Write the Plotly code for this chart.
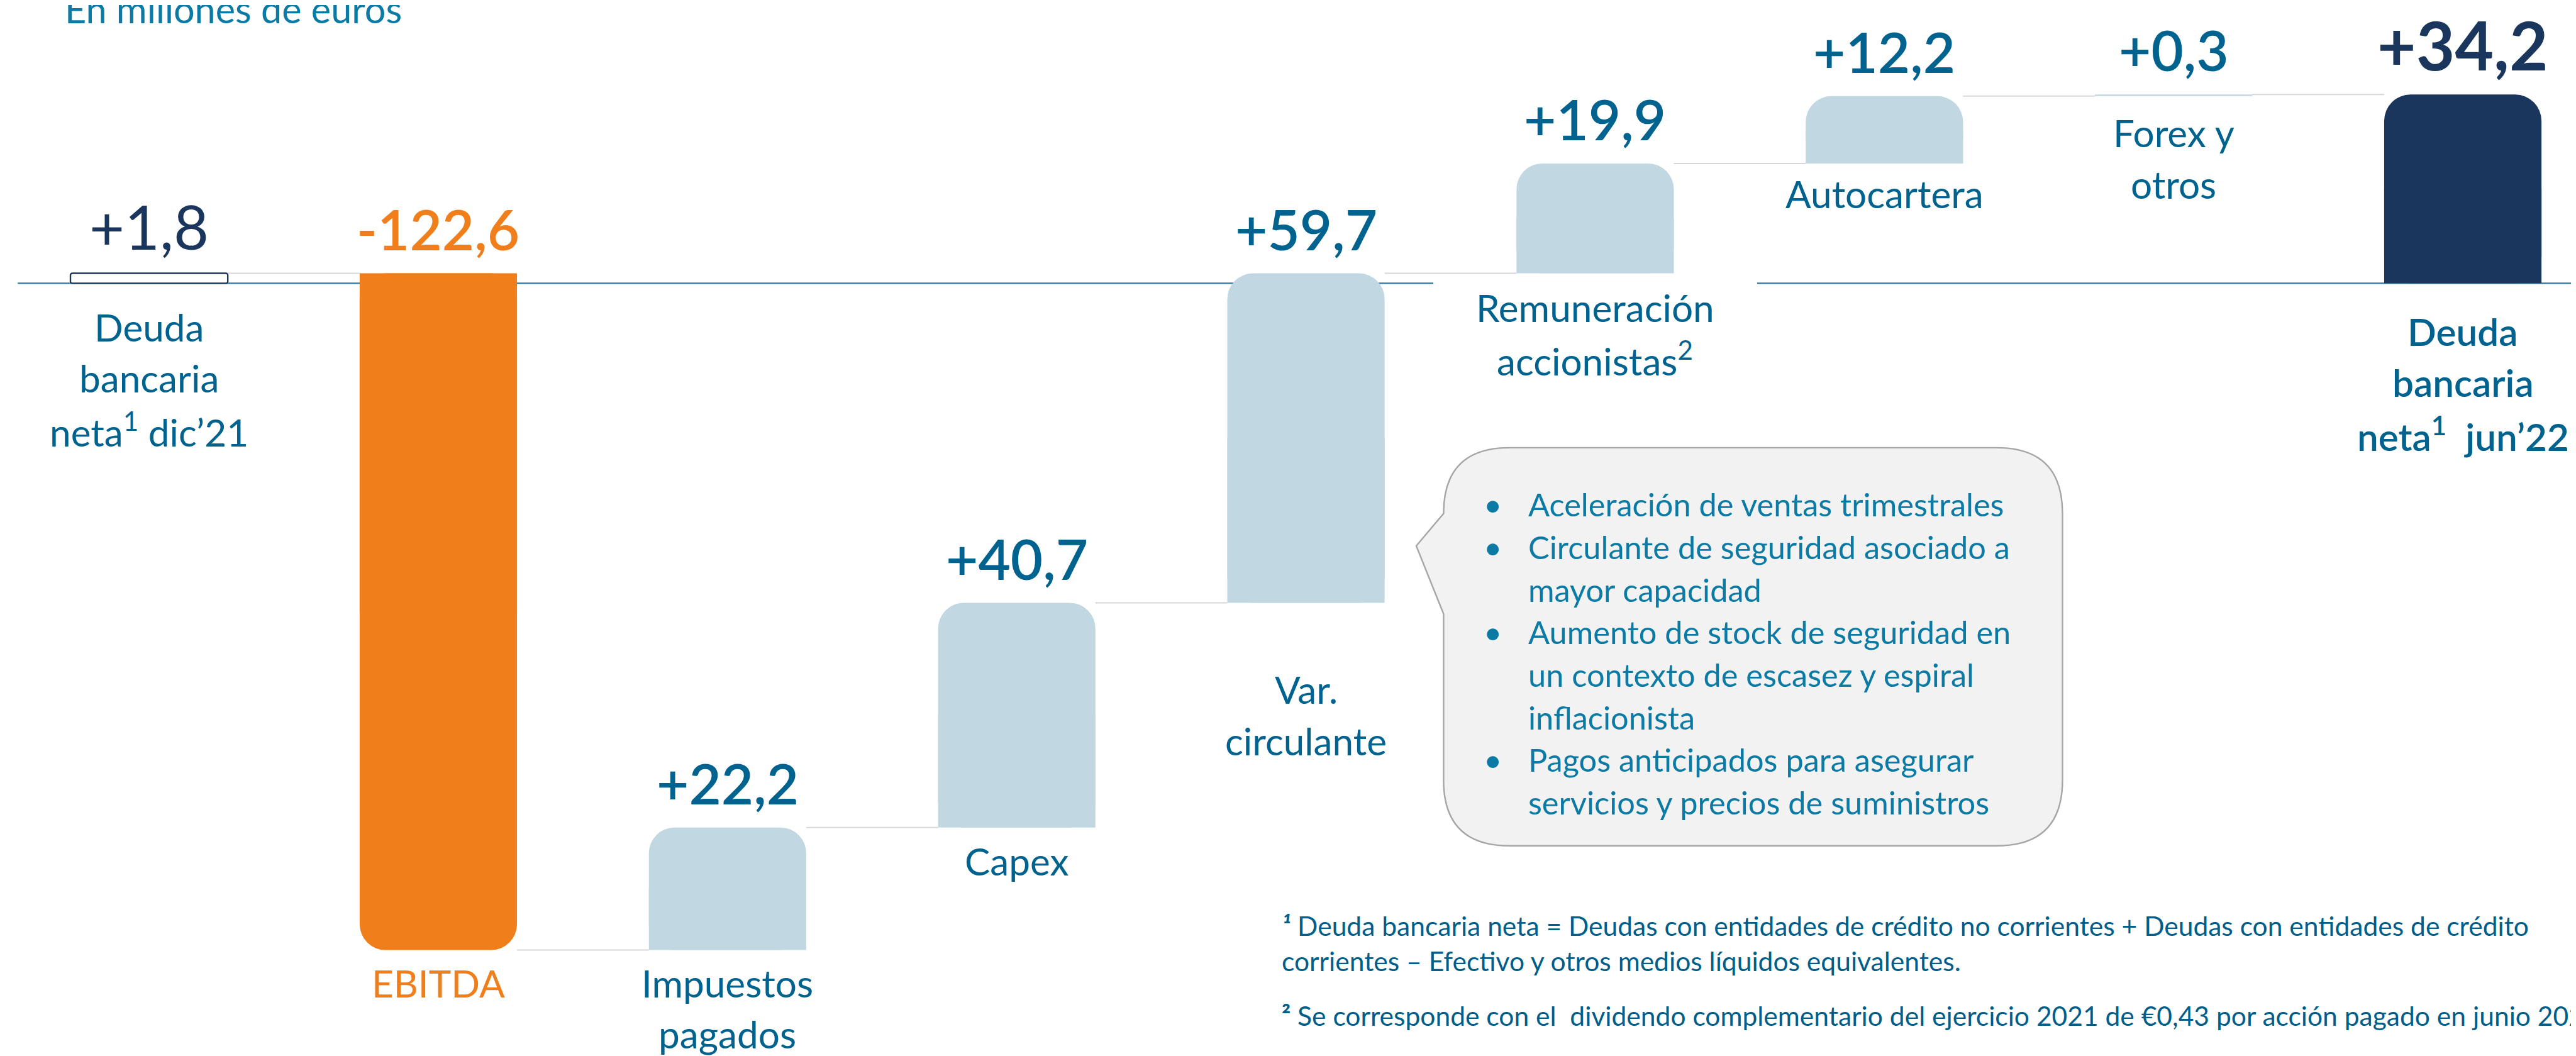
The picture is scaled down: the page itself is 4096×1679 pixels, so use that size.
import plotly.graph_objects as go

# ---------------- data ----------------
categories = ["Deuda bancaria neta¹ dic’21", "EBITDA", "Impuestos pagados", "Capex",
              "Var. circulante", "Remuneración accionistas²", "Autocartera",
              "Forex y otros", "Deuda bancaria neta¹ jun’22"]
category_lines = [
    ["Deuda", "bancaria", "neta<sup>1</sup> dic’21"],
    ["EBITDA"],
    ["Impuestos", "pagados"],
    ["Capex"],
    ["Var.", "circulante"],
    ["Remuneración", "accionistas<sup>2</sup>"],
    ["Autocartera"],
    ["Forex y", "otros"],
    ["Deuda", "bancaria", "neta<sup>1</sup>\u00a0 jun’22"],
]
values = [1.8, -122.6, 22.2, 40.7, 59.7, 19.9, 12.2, 0.3, 34.2]
kinds = ["total", "relative", "relative", "relative", "relative", "relative", "relative", "relative", "total"]

title_text = "En millones de euros"
callout_items = [
    ["Aceleración de ventas trimestrales"],
    ["Circulante de seguridad asociado a", "mayor capacidad"],
    ["Aumento de stock de seguridad en", "un contexto de escasez y espiral", "inflacionista"],
    ["Pagos anticipados para asegurar", "servicios y precios de suministros"],
]
footnotes = [
    "<b><i>¹</i></b> Deuda bancaria neta = Deudas con entidades de crédito no corrientes + Deudas con entidades de crédito",
    "corrientes – Efectivo y otros medios líquidos equivalentes.",
    "<b>²</b> Se corresponde con el\u00a0 dividendo complementario del ejercicio 2021 de €0,43 por acción pagado en junio 2022",
]

# ---------------- geometry / style ----------------
W_REF, H_REF = 4620, 1894
W, H = 4096, 1679
S = W / W_REF
FONT = "Lato"
MID = 0.47   # baseline -> box middle, in em

ORANGE = "#F07E1B"
LIGHT = "#C1D7E1"
NAVY = "#1B365D"
TEAL = "#00628F"
TEAL_LIGHT = "#0B7AA4"
FOOT = "#005E8A"
CONNECT = "#D6D6D6"
BASELINE = "#2C77A3"

ZERO_PX, PX_PER_UNIT = 499, 9.9
Y_RANGE = [-(H_REF - ZERO_PX) / PX_PER_UNIT, ZERO_PX / PX_PER_UNIT]
X0_PX, STEP_PX = 258.4, 518.7
X_RANGE = [-X0_PX / STEP_PX, (W_REF - X0_PX) / STEP_PX]
BARGAP = 0.456
BAR_W = 1 - BARGAP

# waterfall bases
bases, ends = [], []
running = 0.0
for v, k in zip(values, kinds):
    if k == "total":
        bases.append(0.0)
        running = v
    else:
        bases.append(running)
        running = running + v
    ends.append(running)
tops = [max(b, b + v) for b, v in zip(bases, values)]
bottoms = [min(b, b + v) for b, v in zip(bases, values)]
value_text = [f"{v:+.1f}".replace(".", ",") for v in values]

idx = list(range(len(values)))

fig = go.Figure()

def add_bar(ids, color, radius, line_color=None, line_width=0, half=False):
    fig.add_trace(go.Bar(
        x=[idx[i] for i in ids],
        y=[values[i] / 2 if half else values[i] for i in ids],
        base=[bases[i] for i in ids],
        marker=dict(color=color, cornerradius=radius,
                    line=dict(color=line_color or color, width=line_width)),
        hoverinfo="skip", showlegend=False))

add_bar([0], "white", 3, NAVY, 2.4)
add_bar([1], ORANGE, 41)
add_bar([2, 3, 4, 5, 6], LIGHT, 41)
add_bar([7], LIGHT, 0)
add_bar([8], NAVY, 42)
# square off the base end of the rounded bars (only the far end is rounded)
add_bar([1], ORANGE, 0, half=True)
add_bar([2, 3, 4, 5, 6], LIGHT, 0, half=True)
add_bar([8], NAVY, 0, half=True)

# connectors
cx, cy = [], []
for i in range(len(values) - 1):
    cx += [idx[i] + BAR_W / 2, idx[i + 1] - BAR_W / 2, None]
    cy += [ends[i], ends[i], None]
fig.add_trace(go.Scatter(x=cx, y=cy, mode="lines", line=dict(color=CONNECT, width=2),
                         hoverinfo="skip", showlegend=False))

annotations = []

# value labels
val_size = [109, 100, 100, 100, 100, 100, 100, 100, 120]
val_weight = [400, 600, 600, 600, 600, 600, 600, 600, 700]
val_color = [NAVY, ORANGE, TEAL, TEAL, TEAL, TEAL, TEAL, TEAL, NAVY]
VAL_GAP = 33
for i in idx:
    F = val_size[i]
    annotations.append(dict(
        x=idx[i], y=tops[i], xref="x", yref="y", text=value_text[i], showarrow=False,
        xanchor="center", yanchor="middle", yshift=S * (VAL_GAP + MID * F),
        font=dict(family=FONT, size=F * S, color=val_color[i], weight=val_weight[i])))

# category labels (offset of first baseline below bar bottom, in reference px)
cat_offset = [110, 91, 91, 92, 187, 93, 86, 98, 118]
cat_color = [TEAL, ORANGE, TEAL, TEAL, TEAL, TEAL, TEAL, TEAL, TEAL]
cat_weight = [400] * 8 + [600]
CAT_SIZE, CAT_LINE = 68, 92
for i in idx:
    for j, line in enumerate(category_lines[i]):
        annotations.append(dict(
            x=idx[i], y=bottoms[i], xref="x", yref="y", text=line, showarrow=False,
            xanchor="center", yanchor="middle",
            yshift=-S * (cat_offset[i] + j * CAT_LINE - MID * CAT_SIZE),
            font=dict(family=FONT, size=CAT_SIZE * S, color=cat_color[i], weight=cat_weight[i])))

def px_text(x, baseline, text, size, color, anchor="left", weight=400):
    yc = baseline - MID * size
    annotations.append(dict(
        x=x / W_REF, y=1 - yc / H_REF, xref="paper", yref="paper", text=text,
        showarrow=False, xanchor=anchor, yanchor="middle",
        font=dict(family=FONT, size=size * S, color=color, weight=weight)))

# title
px_text(105, 38, title_text, 67, TEAL_LIGHT)

# callout text
line_y = 922
for item in callout_items:
    px_text(2650, line_y, "•", 57, TEAL_LIGHT)
    for line in item:
        px_text(2730, line_y, line, 57, TEAL_LIGHT)
        line_y += 76.4

# footnotes
px_text(2288, 1673, footnotes[0], 48, FOOT)
px_text(2288, 1737, footnotes[1], 48, FOOT)
px_text(2288, 1835, footnotes[2], 48, FOOT)

# shapes
shapes = []
GAP_HALF = 0.56
for x0, x1 in [(-0.454, idx[5] - GAP_HALF), (idx[5] + GAP_HALF, X_RANGE[1] + 0.2)]:
    shapes.append(dict(type="line", xref="x", yref="y", x0=x0, x1=x1, y0=0, y1=0,
                       line=dict(color=BASELINE, width=2.4), layer="below"))

def P(x, y):
    return f"{x / W_REF:.5f},{1 - y / H_REF:.5f}"

L, R, T, B, r = 2580, 3690, 794, 1508, 118
path = (f"M {P(L + r, T)} L {P(R - r, T)} Q {P(R, T)} {P(R, T + r)} "
        f"L {P(R, B - r)} Q {P(R, B)} {P(R - r, B)} L {P(L + r, B)} "
        f"Q {P(L, B)} {P(L, B - r)} L {P(L, 1092)} L {P(2531, 970)} L {P(L, 912)} "
        f"L {P(L, T + r)} Q {P(L, T)} {P(L + r, T)} Z")
shapes.append(dict(type="path", xref="paper", yref="paper", path=path,
                   fillcolor="#F2F2F2", line=dict(color="#A6A6A6", width=2.4), layer="below"))

fig.update_layout(
    width=W, height=H, margin=dict(l=0, r=0, t=0, b=0),
    paper_bgcolor="white", plot_bgcolor="white",
    barmode="overlay", bargap=BARGAP, showlegend=False,
    xaxis=dict(range=X_RANGE, visible=False, fixedrange=True),
    yaxis=dict(range=Y_RANGE, visible=False, fixedrange=True),
    annotations=annotations, shapes=shapes,
)

fig.write_html("out.html")
